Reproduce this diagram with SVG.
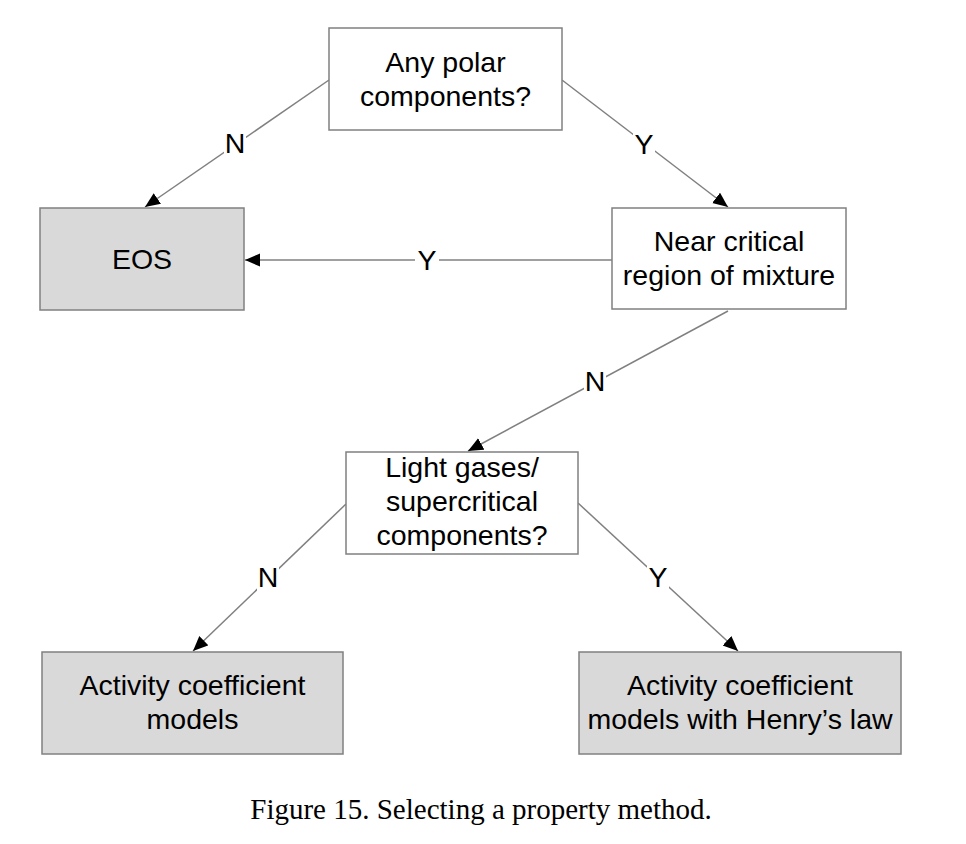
<svg xmlns="http://www.w3.org/2000/svg" width="966" height="844" viewBox="0 0 966 844">
<defs>
<marker id="arr" markerUnits="userSpaceOnUse" markerWidth="16" markerHeight="14" refX="15" refY="6.5" orient="auto">
<path d="M0,0 L15,6.5 L0,13 Z" fill="#000"/>
</marker>
<style>
.box{stroke:#808080;stroke-width:1.5}
.q{fill:#fff}
.r{fill:#d9d9d9}
.t{font-family:"Liberation Sans",Arial,sans-serif;font-size:28.5px;fill:#000;text-anchor:middle}
.c{stroke:#808080;stroke-width:1.5;fill:none;marker-end:url(#arr)}
.lb{fill:#fff}
.cap{font-family:"Liberation Serif","Times New Roman",serif;font-size:29px;fill:#000;text-anchor:middle}
</style>
</defs>
<rect width="966" height="844" fill="#fff"/>
<g id="connectors">
<line class="c" x1="329" y1="80" x2="145" y2="207"/>
<line class="c" x1="562" y1="80" x2="728" y2="207"/>
<line class="c" x1="612" y1="260" x2="245" y2="260"/>
<line class="c" x1="728" y1="311" x2="468" y2="451"/>
<line class="c" x1="346" y1="504" x2="193" y2="651"/>
<line class="c" x1="578" y1="503" x2="738" y2="651"/>
<rect class="lb" x="224" y="131" width="22" height="26"/>
<text class="t" x="235" y="153">N</text>
<rect class="lb" x="633" y="132" width="22" height="26"/>
<text class="t" x="644" y="154">Y</text>
<rect class="lb" x="415" y="248" width="24" height="26"/>
<text class="t" x="427" y="270">Y</text>
<rect class="lb" x="584" y="369" width="22" height="26"/>
<text class="t" x="595" y="391">N</text>
<rect class="lb" x="257" y="565" width="22" height="26"/>
<text class="t" x="268" y="587">N</text>
<rect class="lb" x="647" y="565" width="22" height="26"/>
<text class="t" x="658" y="587">Y</text>
</g>
<g id="n-polar">
<rect class="box q" x="329" y="28" width="233" height="102"/>
<text class="t" x="445.5" y="72">Any polar</text>
<text class="t" x="445.5" y="106">components?</text>
</g>
<g id="n-eos">
<rect class="box r" x="40" y="208" width="204" height="102"/>
<text class="t" x="142" y="269">EOS</text>
</g>
<g id="n-critical">
<rect class="box q" x="612" y="208" width="234" height="101"/>
<text class="t" x="729" y="251">Near critical</text>
<text class="t" x="729" y="285">region of mixture</text>
</g>
<g id="n-light">
<rect class="box q" x="346" y="452" width="232" height="102"/>
<text class="t" x="462" y="477">Light gases/</text>
<text class="t" x="462" y="511">supercritical</text>
<text class="t" x="462" y="545">components?</text>
</g>
<g id="n-activity">
<rect class="box r" x="42" y="652" width="301" height="102"/>
<text class="t" x="192.5" y="695">Activity coefficient</text>
<text class="t" x="192.5" y="729">models</text>
</g>
<g id="n-henry">
<rect class="box r" x="579" y="652" width="322" height="102"/>
<text class="t" x="740" y="695">Activity coefficient</text>
<text class="t" x="740" y="729">models with Henry’s law</text>
</g>
<text class="cap" x="481" y="819">Figure 15. Selecting a property method.</text>
</svg>
